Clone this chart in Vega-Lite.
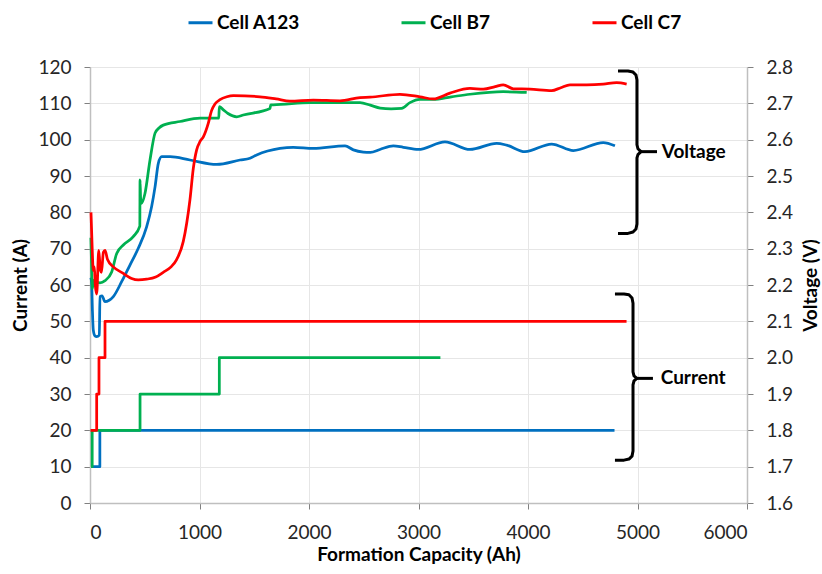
{
  "$schema": "https://vega.github.io/schema/vega-lite/v6.json",
  "width": 657,
  "height": 436,
  "autosize": {"type": "none"},
  "padding": {"left": 90, "top": 67, "right": 75, "bottom": 71},
  "background": "white",
  "config": {
    "view": {"stroke": null},
    "font": "Lato",
    "axis": {
      "labelFont": "Lato",
      "labelFontSize": 19,
      "labelColor": "#262626",
      "titleFont": "Lato",
      "titleFontSize": 19,
      "titleFontWeight": "bold",
      "titleColor": "#000000",
      "domainColor": "#bfbfbf",
      "domainWidth": 1.5,
      "tickColor": "#808080",
      "tickSize": 6,
      "gridColor": "#e6e6e6",
      "gridWidth": 1
    }
  },
  "datasets": {
    "current": [
      {"cell": "Cell A123", "ah": 10, "amps": 10},
      {"cell": "Cell A123", "ah": 90, "amps": 20},
      {"cell": "Cell A123", "ah": 4790, "amps": 20},
      {"cell": "Cell B7", "ah": 10, "amps": 10},
      {"cell": "Cell B7", "ah": 20, "amps": 20},
      {"cell": "Cell B7", "ah": 457, "amps": 30},
      {"cell": "Cell B7", "ah": 1181, "amps": 40},
      {"cell": "Cell B7", "ah": 3200, "amps": 40},
      {"cell": "Cell C7", "ah": 5, "amps": 20},
      {"cell": "Cell C7", "ah": 61, "amps": 30},
      {"cell": "Cell C7", "ah": 82, "amps": 40},
      {"cell": "Cell C7", "ah": 137, "amps": 50},
      {"cell": "Cell C7", "ah": 4900, "amps": 50}
    ],
    "voltage": [
      {"cell": "Cell A123", "ah": 8, "volts": 2.22},
      {"cell": "Cell A123", "ah": 15, "volts": 2.205},
      {"cell": "Cell A123", "ah": 22, "volts": 2.13},
      {"cell": "Cell A123", "ah": 30, "volts": 2.076},
      {"cell": "Cell A123", "ah": 45, "volts": 2.06},
      {"cell": "Cell A123", "ah": 61, "volts": 2.058},
      {"cell": "Cell A123", "ah": 85, "volts": 2.062},
      {"cell": "Cell A123", "ah": 91, "volts": 2.168},
      {"cell": "Cell A123", "ah": 110, "volts": 2.17},
      {"cell": "Cell A123", "ah": 137, "volts": 2.154},
      {"cell": "Cell A123", "ah": 175, "volts": 2.158},
      {"cell": "Cell A123", "ah": 213, "volts": 2.168},
      {"cell": "Cell A123", "ah": 289, "volts": 2.209},
      {"cell": "Cell A123", "ah": 365, "volts": 2.255},
      {"cell": "Cell A123", "ah": 441, "volts": 2.301},
      {"cell": "Cell A123", "ah": 517, "volts": 2.36},
      {"cell": "Cell A123", "ah": 563, "volts": 2.416},
      {"cell": "Cell A123", "ah": 594, "volts": 2.47},
      {"cell": "Cell A123", "ah": 624, "volts": 2.535},
      {"cell": "Cell A123", "ah": 655, "volts": 2.553},
      {"cell": "Cell A123", "ah": 731, "volts": 2.553},
      {"cell": "Cell A123", "ah": 913, "volts": 2.544},
      {"cell": "Cell A123", "ah": 1157, "volts": 2.532},
      {"cell": "Cell A123", "ah": 1370, "volts": 2.544},
      {"cell": "Cell A123", "ah": 1461, "volts": 2.549},
      {"cell": "Cell A123", "ah": 1522, "volts": 2.558},
      {"cell": "Cell A123", "ah": 1735, "volts": 2.576},
      {"cell": "Cell A123", "ah": 1857, "volts": 2.579},
      {"cell": "Cell A123", "ah": 2039, "volts": 2.576},
      {"cell": "Cell A123", "ah": 2329, "volts": 2.583},
      {"cell": "Cell A123", "ah": 2405, "volts": 2.572},
      {"cell": "Cell A123", "ah": 2496, "volts": 2.566},
      {"cell": "Cell A123", "ah": 2560, "volts": 2.565},
      {"cell": "Cell A123", "ah": 2648, "volts": 2.573},
      {"cell": "Cell A123", "ah": 2770, "volts": 2.583},
      {"cell": "Cell A123", "ah": 2861, "volts": 2.579},
      {"cell": "Cell A123", "ah": 2998, "volts": 2.573},
      {"cell": "Cell A123", "ah": 3242, "volts": 2.594},
      {"cell": "Cell A123", "ah": 3470, "volts": 2.573},
      {"cell": "Cell A123", "ah": 3714, "volts": 2.59},
      {"cell": "Cell A123", "ah": 3805, "volts": 2.585},
      {"cell": "Cell A123", "ah": 3972, "volts": 2.567},
      {"cell": "Cell A123", "ah": 4216, "volts": 2.588},
      {"cell": "Cell A123", "ah": 4414, "volts": 2.57},
      {"cell": "Cell A123", "ah": 4687, "volts": 2.592},
      {"cell": "Cell A123", "ah": 4794, "volts": 2.583},

      {"cell": "Cell B7", "ah": 8, "volts": 2.33},
      {"cell": "Cell B7", "ah": 14, "volts": 2.26},
      {"cell": "Cell B7", "ah": 20, "volts": 2.19},
      {"cell": "Cell B7", "ah": 30, "volts": 2.205},
      {"cell": "Cell B7", "ah": 45, "volts": 2.215},
      {"cell": "Cell B7", "ah": 60, "volts": 2.208},
      {"cell": "Cell B7", "ah": 91, "volts": 2.206},
      {"cell": "Cell B7", "ah": 137, "volts": 2.212},
      {"cell": "Cell B7", "ah": 198, "volts": 2.236},
      {"cell": "Cell B7", "ah": 244, "volts": 2.287},
      {"cell": "Cell B7", "ah": 304, "volts": 2.31},
      {"cell": "Cell B7", "ah": 395, "volts": 2.333},
      {"cell": "Cell B7", "ah": 455, "volts": 2.362},
      {"cell": "Cell B7", "ah": 457, "volts": 2.489},
      {"cell": "Cell B7", "ah": 462, "volts": 2.44},
      {"cell": "Cell B7", "ah": 470, "volts": 2.425},
      {"cell": "Cell B7", "ah": 502, "volts": 2.452},
      {"cell": "Cell B7", "ah": 548, "volts": 2.544},
      {"cell": "Cell B7", "ah": 594, "volts": 2.618},
      {"cell": "Cell B7", "ah": 630, "volts": 2.632},
      {"cell": "Cell B7", "ah": 669, "volts": 2.64},
      {"cell": "Cell B7", "ah": 822, "volts": 2.65},
      {"cell": "Cell B7", "ah": 1005, "volts": 2.659},
      {"cell": "Cell B7", "ah": 1176, "volts": 2.659},
      {"cell": "Cell B7", "ah": 1181, "volts": 2.691},
      {"cell": "Cell B7", "ah": 1218, "volts": 2.682},
      {"cell": "Cell B7", "ah": 1260, "volts": 2.672},
      {"cell": "Cell B7", "ah": 1340, "volts": 2.663},
      {"cell": "Cell B7", "ah": 1400, "volts": 2.668},
      {"cell": "Cell B7", "ah": 1644, "volts": 2.686},
      {"cell": "Cell B7", "ah": 1650, "volts": 2.696},
      {"cell": "Cell B7", "ah": 1674, "volts": 2.696},
      {"cell": "Cell B7", "ah": 2009, "volts": 2.702},
      {"cell": "Cell B7", "ah": 2466, "volts": 2.702},
      {"cell": "Cell B7", "ah": 2560, "volts": 2.695},
      {"cell": "Cell B7", "ah": 2650, "volts": 2.687},
      {"cell": "Cell B7", "ah": 2750, "volts": 2.685},
      {"cell": "Cell B7", "ah": 2846, "volts": 2.686},
      {"cell": "Cell B7", "ah": 2922, "volts": 2.702},
      {"cell": "Cell B7", "ah": 3013, "volts": 2.711},
      {"cell": "Cell B7", "ah": 3135, "volts": 2.711},
      {"cell": "Cell B7", "ah": 3300, "volts": 2.718},
      {"cell": "Cell B7", "ah": 3470, "volts": 2.725},
      {"cell": "Cell B7", "ah": 3774, "volts": 2.732},
      {"cell": "Cell B7", "ah": 3988, "volts": 2.73},

      {"cell": "Cell C7", "ah": 9, "volts": 2.4},
      {"cell": "Cell C7", "ah": 20, "volts": 2.3},
      {"cell": "Cell C7", "ah": 30, "volts": 2.24},
      {"cell": "Cell C7", "ah": 40, "volts": 2.25},
      {"cell": "Cell C7", "ah": 48, "volts": 2.2},
      {"cell": "Cell C7", "ah": 61, "volts": 2.175},
      {"cell": "Cell C7", "ah": 80, "volts": 2.295},
      {"cell": "Cell C7", "ah": 95, "volts": 2.24},
      {"cell": "Cell C7", "ah": 105, "volts": 2.235},
      {"cell": "Cell C7", "ah": 122, "volts": 2.29},
      {"cell": "Cell C7", "ah": 137, "volts": 2.295},
      {"cell": "Cell C7", "ah": 160, "volts": 2.27},
      {"cell": "Cell C7", "ah": 213, "volts": 2.25},
      {"cell": "Cell C7", "ah": 304, "volts": 2.232},
      {"cell": "Cell C7", "ah": 380, "volts": 2.218},
      {"cell": "Cell C7", "ah": 441, "volts": 2.214},
      {"cell": "Cell C7", "ah": 517, "volts": 2.216},
      {"cell": "Cell C7", "ah": 600, "volts": 2.222},
      {"cell": "Cell C7", "ah": 669, "volts": 2.235},
      {"cell": "Cell C7", "ah": 740, "volts": 2.25},
      {"cell": "Cell C7", "ah": 791, "volts": 2.27},
      {"cell": "Cell C7", "ah": 852, "volts": 2.32},
      {"cell": "Cell C7", "ah": 883, "volts": 2.37},
      {"cell": "Cell C7", "ah": 913, "volts": 2.435},
      {"cell": "Cell C7", "ah": 943, "volts": 2.52},
      {"cell": "Cell C7", "ah": 974, "volts": 2.572},
      {"cell": "Cell C7", "ah": 1005, "volts": 2.595},
      {"cell": "Cell C7", "ah": 1035, "volts": 2.608},
      {"cell": "Cell C7", "ah": 1080, "volts": 2.645},
      {"cell": "Cell C7", "ah": 1110, "volts": 2.68},
      {"cell": "Cell C7", "ah": 1141, "volts": 2.698},
      {"cell": "Cell C7", "ah": 1187, "volts": 2.71},
      {"cell": "Cell C7", "ah": 1250, "volts": 2.718},
      {"cell": "Cell C7", "ah": 1309, "volts": 2.721},
      {"cell": "Cell C7", "ah": 1552, "volts": 2.718},
      {"cell": "Cell C7", "ah": 1700, "volts": 2.712},
      {"cell": "Cell C7", "ah": 1826, "volts": 2.706},
      {"cell": "Cell C7", "ah": 2039, "volts": 2.709},
      {"cell": "Cell C7", "ah": 2283, "volts": 2.707},
      {"cell": "Cell C7", "ah": 2466, "volts": 2.716},
      {"cell": "Cell C7", "ah": 2557, "volts": 2.717},
      {"cell": "Cell C7", "ah": 2831, "volts": 2.725},
      {"cell": "Cell C7", "ah": 3013, "volts": 2.718},
      {"cell": "Cell C7", "ah": 3135, "volts": 2.712},
      {"cell": "Cell C7", "ah": 3287, "volts": 2.728},
      {"cell": "Cell C7", "ah": 3470, "volts": 2.741},
      {"cell": "Cell C7", "ah": 3592, "volts": 2.739},
      {"cell": "Cell C7", "ah": 3700, "volts": 2.746},
      {"cell": "Cell C7", "ah": 3774, "volts": 2.751},
      {"cell": "Cell C7", "ah": 3866, "volts": 2.74},
      {"cell": "Cell C7", "ah": 4018, "volts": 2.739},
      {"cell": "Cell C7", "ah": 4216, "volts": 2.735},
      {"cell": "Cell C7", "ah": 4300, "volts": 2.743},
      {"cell": "Cell C7", "ah": 4383, "volts": 2.751},
      {"cell": "Cell C7", "ah": 4536, "volts": 2.751},
      {"cell": "Cell C7", "ah": 4687, "volts": 2.753},
      {"cell": "Cell C7", "ah": 4809, "volts": 2.757},
      {"cell": "Cell C7", "ah": 4901, "volts": 2.753}
    ],
    "brackets": [
      {"part": "voltage brace", "k": 1, "ah": 4822, "amps": 118.9},
      {"part": "voltage brace", "k": 2, "ah": 4913, "amps": 118.9},
      {"part": "voltage brace", "k": 3, "ah": 4959, "amps": 118.6},
      {"part": "voltage brace", "k": 4, "ah": 4986, "amps": 117.8},
      {"part": "voltage brace", "k": 5, "ah": 4995, "amps": 116.4},
      {"part": "voltage brace", "k": 6, "ah": 4995, "amps": 98.6},
      {"part": "voltage brace", "k": 7, "ah": 5004, "amps": 97.5},
      {"part": "voltage brace", "k": 8, "ah": 5032, "amps": 96.7},
      {"part": "voltage brace", "k": 9, "ah": 5004, "amps": 95.9},
      {"part": "voltage brace", "k": 10, "ah": 4995, "amps": 95.0},
      {"part": "voltage brace", "k": 11, "ah": 4995, "amps": 76.8},
      {"part": "voltage brace", "k": 12, "ah": 4986, "amps": 75.4},
      {"part": "voltage brace", "k": 13, "ah": 4959, "amps": 74.6},
      {"part": "voltage brace", "k": 14, "ah": 4913, "amps": 74.2},
      {"part": "voltage brace", "k": 15, "ah": 4822, "amps": 74.2},
      {"part": "voltage pointer", "k": 1, "ah": 5032, "amps": 96.7},
      {"part": "voltage pointer", "k": 2, "ah": 5178, "amps": 96.7},
      {"part": "current brace", "k": 1, "ah": 4794, "amps": 57.5},
      {"part": "current brace", "k": 2, "ah": 4877, "amps": 57.5},
      {"part": "current brace", "k": 3, "ah": 4922, "amps": 57.3},
      {"part": "current brace", "k": 4, "ah": 4950, "amps": 56.4},
      {"part": "current brace", "k": 5, "ah": 4959, "amps": 55.0},
      {"part": "current brace", "k": 6, "ah": 4959, "amps": 36.1},
      {"part": "current brace", "k": 7, "ah": 4968, "amps": 35.0},
      {"part": "current brace", "k": 8, "ah": 4995, "amps": 34.3},
      {"part": "current brace", "k": 9, "ah": 4968, "amps": 33.6},
      {"part": "current brace", "k": 10, "ah": 4959, "amps": 32.5},
      {"part": "current brace", "k": 11, "ah": 4959, "amps": 14.3},
      {"part": "current brace", "k": 12, "ah": 4950, "amps": 12.9},
      {"part": "current brace", "k": 13, "ah": 4922, "amps": 12.1},
      {"part": "current brace", "k": 14, "ah": 4877, "amps": 11.8},
      {"part": "current brace", "k": 15, "ah": 4794, "amps": 11.8},
      {"part": "current pointer", "k": 1, "ah": 4995, "amps": 34.3},
      {"part": "current pointer", "k": 2, "ah": 5141, "amps": 34.3}
    ],
    "notes": [
      {"label": "Voltage", "ah": 5221, "amps": 96.7},
      {"label": "Current", "ah": 5212, "amps": 34.3}
    ]
  },
  "encoding": {
    "x": {
      "field": "ah",
      "type": "quantitative",
      "scale": {"domain": [0, 6000], "nice": false},
      "axis": {
        "title": "Formation Capacity (Ah)",
        "values": [0, 1000, 2000, 3000, 4000, 5000, 6000],
        "format": "d",
        "grid": true,
        "labelPadding": 14,
        "titleY": 51,
        "titleBaseline": "middle"
      }
    }
  },
  "layer": [
    {
      "encoding": {
        "y": {
          "field": "amps",
          "type": "quantitative",
          "scale": {"domain": [0, 120], "nice": false},
          "axis": {
            "title": "Current (A)",
            "values": [0, 10, 20, 30, 40, 50, 60, 70, 80, 90, 100, 110, 120],
            "grid": true,
            "labelPadding": 13,
            "titleX": -70,
            "titleY": 218,
            "titleAngle": 270,
            "titleAlign": "center",
            "titleBaseline": "middle"
          }
        }
      },
      "layer": [
        {
          "data": {"name": "current"},
          "mark": {"type": "line", "interpolate": "step-after", "strokeWidth": 2.75, "strokeJoin": "round"},
          "encoding": {
            "color": {
              "field": "cell",
              "type": "nominal",
              "scale": {"domain": ["Cell A123", "Cell B7", "Cell C7"], "range": ["#0070C0", "#00B050", "#FF0000"]},
              "legend": {
                "orient": "none",
                "legendX": 97,
                "legendY": -58,
                "direction": "horizontal",
                "columns": 3,
                "title": null,
                "symbolType": "stroke",
                "symbolSize": 576,
                "symbolStrokeWidth": 3,
                "labelFont": "Lato",
                "labelFontSize": 19,
                "labelFontWeight": "bold",
                "labelColor": "#000000",
                "labelOffset": 3,
                "columnPadding": 95
              }
            }
          }
        },
        {
          "data": {"name": "brackets"},
          "mark": {"type": "line", "color": "#000000", "strokeWidth": 3, "strokeJoin": "round", "strokeCap": "butt"},
          "encoding": {
            "detail": {"field": "part", "type": "nominal"},
            "order": {"field": "k", "type": "quantitative"}
          }
        },
        {
          "data": {"name": "notes"},
          "mark": {"type": "text", "align": "left", "baseline": "middle", "font": "Lato", "fontSize": 19, "fontWeight": "bold", "color": "#000000"},
          "encoding": {
            "text": {"field": "label", "type": "nominal"}
          }
        }
      ]
    },
    {
      "data": {"name": "voltage"},
      "mark": {"type": "line", "interpolate": "monotone", "strokeWidth": 2.75, "strokeJoin": "round"},
      "encoding": {
        "y": {
          "field": "volts",
          "type": "quantitative",
          "scale": {"domain": [1.6, 2.8], "nice": false},
          "axis": {
            "orient": "right",
            "title": "Voltage (V)",
            "values": [1.6, 1.7, 1.8, 1.9, 2.0, 2.1, 2.2, 2.3, 2.4, 2.5, 2.6, 2.7, 2.8],
            "format": ".1f",
            "grid": false,
            "labelPadding": 13,
            "titleX": 63,
            "titleY": 218,
            "titleAngle": 270,
            "titleAlign": "center",
            "titleBaseline": "middle"
          }
        },
        "color": {
          "field": "cell",
          "type": "nominal",
          "scale": {"domain": ["Cell A123", "Cell B7", "Cell C7"], "range": ["#0070C0", "#00B050", "#FF0000"]}
        }
      }
    }
  ],
  "resolve": {"scale": {"y": "independent"}}
}
